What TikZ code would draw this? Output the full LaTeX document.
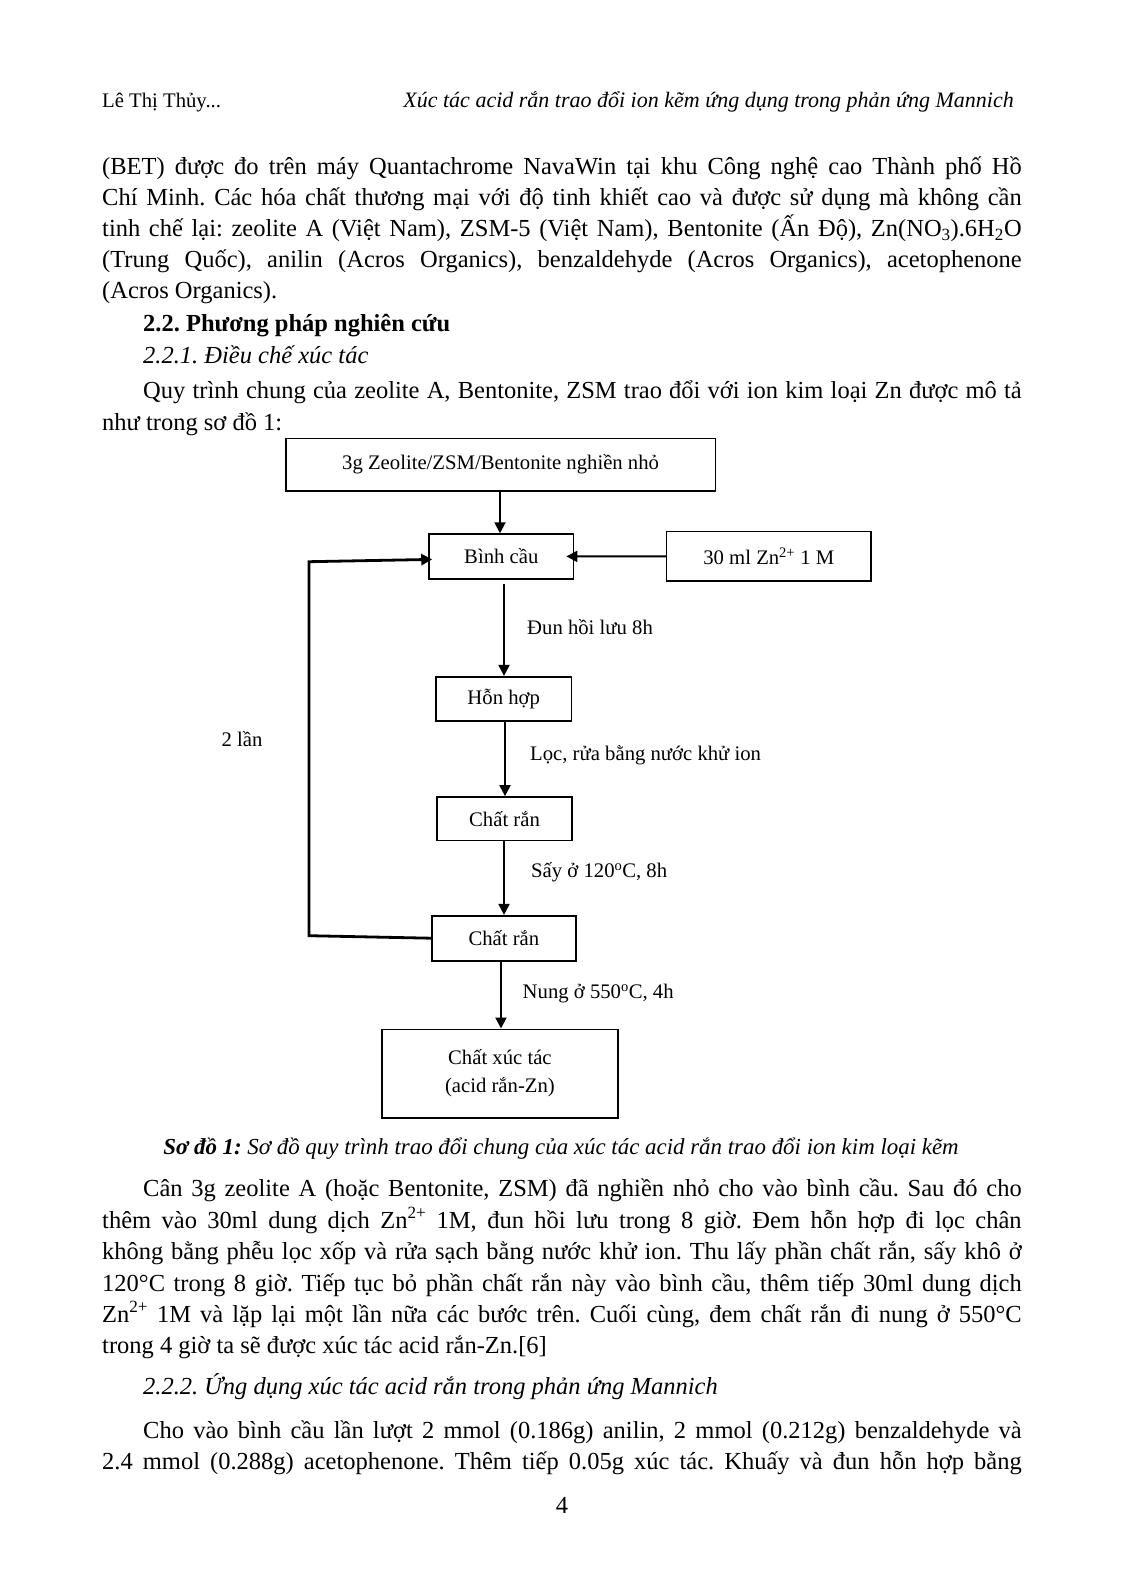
\documentclass[tikz,border=0pt]{standalone}
\usepackage{fontspec}
\setmainfont{Liberation Serif}
\usetikzlibrary{arrows.meta}
\newcommand\jl[1]{\makebox[919.5pt][s]{#1}}
\newcommand\ji[1]{\makebox[878.5pt][s]{#1}}
\frenchspacing
\begin{document}
\begin{tikzpicture}[x=1pt,y=-1pt,
 body/.style={anchor=base west,inner sep=0pt,font=\fontsize{24.5}{30}\selectfont},
 hdr/.style={inner sep=0pt,font=\fontsize{20.7}{26}\selectfont},
 box/.style={draw,line width=1.6pt,inner sep=0pt,align=center,font=\fontsize{20.7}{28}\selectfont},
 lbl/.style={anchor=west,inner sep=0pt,font=\fontsize{20.7}{26}\selectfont},
 arr/.style={line width=2pt,-{Triangle[length=11pt,width=11pt]}},
 loopline/.style={line width=2.8pt}]
\useasboundingbox[fill=white] (0,0) rectangle (1122,1594);
% header
\node[hdr,anchor=base west] (h1) at (102,108) {Lê Thị Thủy...};
\node[hdr,anchor=base east,font=\fontsize{22}{26}\selectfont] (h2) at (1014,108) {\itshape Xúc tác acid rắn trao đổi ion kẽm ứng dụng trong phản ứng Mannich};
% paragraph 1
\node[body] (p1) at (102,175) {\jl{(BET) được đo trên máy Quantachrome NavaWin tại khu Công nghệ cao Thành phố Hồ}};
\node[body] (p2) at (102,205.5) {\jl{Chí Minh. Các hóa chất thương mại với độ tinh khiết cao và được sử dụng mà không cần}};
\node[body] (p3) at (102,236.5) {\jl{tinh chế lại: zeolite A (Việt Nam), ZSM-5 (Việt Nam), Bentonite (Ấn Độ), Zn(NO\textsubscript{3}).6H\textsubscript{2}O}};
\node[body] (p4) at (102,268) {\jl{(Trung Quốc), anilin (Acros Organics), benzaldehyde (Acros Organics), acetophenone}};
\node[body] (p5) at (102,298.5) {(Acros Organics).};
\node[body] (p6) at (143,331.5) {\bfseries 2.2. Phương pháp nghiên cứu};
\node[body] (p7) at (143,363.5) {\itshape 2.2.1. Điều chế xúc tác};
\node[body] (p8) at (143,398.5) {\ji{Quy trình chung của zeolite A, Bentonite, ZSM trao đổi với ion kim loại Zn được mô tả}};
\node[body] (p9) at (102,430) {như trong sơ đồ 1:};
% diagram
\node[box,minimum width=429.8pt,minimum height=52.7pt] (top) at (500.6,464.7) {3g Zeolite/ZSM/Bentonite nghiền nhỏ};
\node[box,minimum width=144.5pt,minimum height=44.7pt] (binh) at (501.3,556.4) {Bình cầu};
\node[box,minimum width=204.5pt,minimum height=49.3pt] (zn) at (768.8,556.3) {30 ml Zn\textsuperscript{2+} 1 M};
\node[box,minimum width=135.8pt,minimum height=44pt] (hon) at (503.7,698.7) {Hỗn hợp};
\node[box,minimum width=135pt,minimum height=43.7pt] (ran1) at (504.5,818.8) {Chất rắn};
\node[box,minimum width=143.8pt,minimum height=45pt] (ran2) at (503.9,938.2) {Chất rắn};
\node[box,minimum width=236.2pt,minimum height=88.4pt] (cat) at (499.9,1073.5) {Chất xúc tác\\(acid rắn-Zn)};
\draw[arr] (top.south -| 500,0) -- (binh.north -| 500,0);
\draw[arr] (zn.west) -- ([xshift=-8pt]binh.east);
\draw[arr] ([yshift=-4pt]binh.south -| 504,0) -- (hon.north -| 504,0);
\draw[arr] (hon.south -| 505,0) -- (ran1.north -| 505,0);
\draw[arr] (ran1.south -| 504,0) -- (ran2.north -| 504,0);
\draw[arr] (ran2.south -| 501,0) -- (cat.north -| 501,0);
\coordinate (lb) at (309,935.7);
\coordinate (lt) at (309,561.7);
\draw[arr,line width=2.8pt] (ran2.west) -- (lb) -- (lt) -- ([xshift=4pt,yshift=-3pt]binh.west);
\node[lbl] (l1) at (527,626.7) {Đun hồi lưu 8h};
\node[lbl] (l2) at (530,755.5) {Lọc, rửa bằng nước khử ion};
\node[lbl] (l3) at (531,872.5) {Sấy ở 120\textsuperscript{o}C, 8h};
\node[lbl] (l4) at (522.5,994) {Nung ở 550\textsuperscript{o}C, 4h};
\node[lbl,anchor=center] (l5) at (242,739) {2 lần};
% caption
\node[inner sep=0pt,anchor=base,font=\fontsize{22.9}{28}\selectfont] (cap) at (561,1154) {\textbf{\textit{Sơ đồ 1:}} \textit{Sơ đồ quy trình trao đổi chung của xúc tác acid rắn trao đổi ion kim loại kẽm}};
% paragraph 2
\node[body] (q1) at (143,1196.5) {\ji{Cân 3g zeolite A (hoặc Bentonite, ZSM) đã nghiền nhỏ cho vào bình cầu. Sau đó cho}};
\node[body] (q2) at (102,1228) {\jl{thêm vào 30ml dung dịch Zn\textsuperscript{2+} 1M, đun hồi lưu trong 8 giờ. Đem hỗn hợp đi lọc chân}};
\node[body] (q3) at (102,1259.5) {\jl{không bằng phễu lọc xốp và rửa sạch bằng nước khử ion. Thu lấy phần chất rắn, sấy khô ở}};
\node[body] (q4) at (102,1291) {\jl{120°C trong 8 giờ. Tiếp tục bỏ phần chất rắn này vào bình cầu, thêm tiếp 30ml dung dịch}};
\node[body] (q5) at (102,1322) {\jl{Zn\textsuperscript{2+} 1M và lặp lại một lần nữa các bước trên. Cuối cùng, đem chất rắn đi nung ở 550°C}};
\node[body] (q6) at (102,1353) {trong 4 giờ ta sẽ được xúc tác acid rắn-Zn.[6]};
\node[body] (q7) at (143,1394.5) {\itshape 2.2.2. Ứng dụng xúc tác acid rắn trong phản ứng Mannich};
\node[body] (q8) at (143,1438) {\ji{Cho vào bình cầu lần lượt 2 mmol (0.186g) anilin, 2 mmol (0.212g) benzaldehyde và}};
\node[body] (q9) at (102,1469) {\jl{2.4 mmol (0.288g) acetophenone. Thêm tiếp 0.05g xúc tác. Khuấy và đun hỗn hợp bằng}};
\node[body,anchor=base] (pg) at (562,1513) {4};
\end{tikzpicture}
\end{document}
